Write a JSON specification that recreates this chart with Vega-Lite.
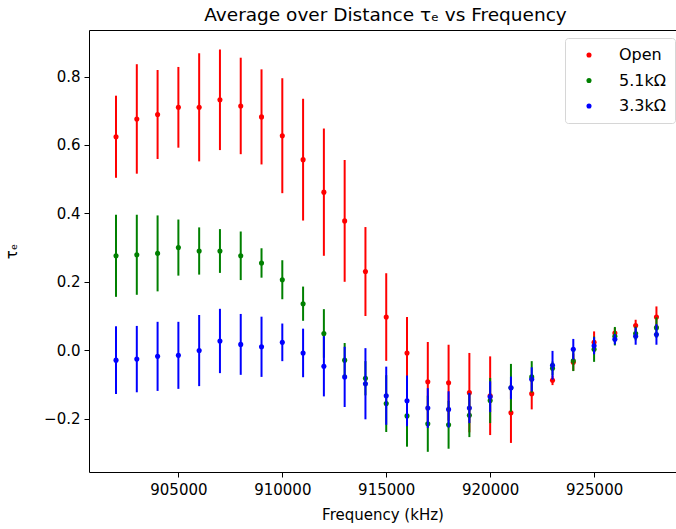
{
  "$schema": "https://vega.github.io/schema/vega-lite/v6.json",
  "width": 587,
  "height": 442,
  "autosize": {"type": "none"},
  "padding": {"left": 89, "top": 30, "right": 0, "bottom": 57},
  "title": {"text": "Average over Distance τₑ vs Frequency", "fontSize": 18.5, "fontWeight": "normal", "color": "#000000", "anchor": "middle", "dx": 3, "offset": 6},
  "config": {
    "font": "DejaVu Sans",
    "view": {"stroke": null},
    "axis": {"grid": false, "domainColor": "#000000", "domainWidth": 1, "tickColor": "#000000", "tickSize": 5, "tickWidth": 1, "labelColor": "#000000", "labelFontSize": 15, "titleColor": "#000000", "titleFontSize": 15, "titleFontWeight": "normal"}
  },
  "data": {"values": [
    {"f": 902000, "s": "Open", "t": 0.624, "e": 0.12},
    {"f": 903000, "s": "Open", "t": 0.676, "e": 0.16},
    {"f": 904000, "s": "Open", "t": 0.689, "e": 0.13},
    {"f": 905000, "s": "Open", "t": 0.710, "e": 0.118},
    {"f": 906000, "s": "Open", "t": 0.710, "e": 0.158},
    {"f": 907000, "s": "Open", "t": 0.732, "e": 0.147},
    {"f": 908000, "s": "Open", "t": 0.714, "e": 0.141},
    {"f": 909000, "s": "Open", "t": 0.682, "e": 0.139},
    {"f": 910000, "s": "Open", "t": 0.627, "e": 0.168},
    {"f": 911000, "s": "Open", "t": 0.557, "e": 0.178},
    {"f": 912000, "s": "Open", "t": 0.462, "e": 0.186},
    {"f": 913000, "s": "Open", "t": 0.378, "e": 0.178},
    {"f": 914000, "s": "Open", "t": 0.230, "e": 0.13},
    {"f": 915000, "s": "Open", "t": 0.097, "e": 0.128},
    {"f": 916000, "s": "Open", "t": -0.008, "e": 0.105},
    {"f": 917000, "s": "Open", "t": -0.092, "e": 0.116},
    {"f": 918000, "s": "Open", "t": -0.095, "e": 0.111},
    {"f": 919000, "s": "Open", "t": -0.124, "e": 0.116},
    {"f": 920000, "s": "Open", "t": -0.133, "e": 0.115},
    {"f": 921000, "s": "Open", "t": -0.183, "e": 0.088},
    {"f": 922000, "s": "Open", "t": -0.127, "e": 0.046},
    {"f": 923000, "s": "Open", "t": -0.088, "e": 0.014},
    {"f": 924000, "s": "Open", "t": -0.035, "e": 0.025},
    {"f": 925000, "s": "Open", "t": 0.023, "e": 0.032},
    {"f": 926000, "s": "Open", "t": 0.050, "e": 0.015},
    {"f": 927000, "s": "Open", "t": 0.072, "e": 0.017},
    {"f": 928000, "s": "Open", "t": 0.097, "e": 0.031},
    {"f": 902000, "s": "5.1kΩ", "t": 0.276, "e": 0.12},
    {"f": 903000, "s": "5.1kΩ", "t": 0.279, "e": 0.117},
    {"f": 904000, "s": "5.1kΩ", "t": 0.283, "e": 0.111},
    {"f": 905000, "s": "5.1kΩ", "t": 0.300, "e": 0.082},
    {"f": 906000, "s": "5.1kΩ", "t": 0.290, "e": 0.069},
    {"f": 907000, "s": "5.1kΩ", "t": 0.290, "e": 0.064},
    {"f": 908000, "s": "5.1kΩ", "t": 0.276, "e": 0.071},
    {"f": 909000, "s": "5.1kΩ", "t": 0.255, "e": 0.043},
    {"f": 910000, "s": "5.1kΩ", "t": 0.206, "e": 0.057},
    {"f": 911000, "s": "5.1kΩ", "t": 0.136, "e": 0.05},
    {"f": 912000, "s": "5.1kΩ", "t": 0.049, "e": 0.071},
    {"f": 913000, "s": "5.1kΩ", "t": -0.029, "e": 0.05},
    {"f": 914000, "s": "5.1kΩ", "t": -0.082, "e": 0.05},
    {"f": 915000, "s": "5.1kΩ", "t": -0.156, "e": 0.083},
    {"f": 916000, "s": "5.1kΩ", "t": -0.192, "e": 0.09},
    {"f": 917000, "s": "5.1kΩ", "t": -0.215, "e": 0.082},
    {"f": 918000, "s": "5.1kΩ", "t": -0.218, "e": 0.07},
    {"f": 919000, "s": "5.1kΩ", "t": -0.190, "e": 0.064},
    {"f": 920000, "s": "5.1kΩ", "t": -0.147, "e": 0.066},
    {"f": 921000, "s": "5.1kΩ", "t": -0.110, "e": 0.07},
    {"f": 922000, "s": "5.1kΩ", "t": -0.078, "e": 0.046},
    {"f": 923000, "s": "5.1kΩ", "t": -0.053, "e": 0.02},
    {"f": 924000, "s": "5.1kΩ", "t": -0.031, "e": 0.03},
    {"f": 925000, "s": "5.1kΩ", "t": 0.003, "e": 0.037},
    {"f": 926000, "s": "5.1kΩ", "t": 0.041, "e": 0.027},
    {"f": 927000, "s": "5.1kΩ", "t": 0.049, "e": 0.02},
    {"f": 928000, "s": "5.1kΩ", "t": 0.066, "e": 0.03},
    {"f": 902000, "s": "3.3kΩ", "t": -0.029, "e": 0.099},
    {"f": 903000, "s": "3.3kΩ", "t": -0.026, "e": 0.097},
    {"f": 904000, "s": "3.3kΩ", "t": -0.018, "e": 0.101},
    {"f": 905000, "s": "3.3kΩ", "t": -0.015, "e": 0.098},
    {"f": 906000, "s": "3.3kΩ", "t": -0.001, "e": 0.104},
    {"f": 907000, "s": "3.3kΩ", "t": 0.027, "e": 0.094},
    {"f": 908000, "s": "3.3kΩ", "t": 0.017, "e": 0.089},
    {"f": 909000, "s": "3.3kΩ", "t": 0.010, "e": 0.088},
    {"f": 910000, "s": "3.3kΩ", "t": 0.023, "e": 0.055},
    {"f": 911000, "s": "3.3kΩ", "t": -0.008, "e": 0.071},
    {"f": 912000, "s": "3.3kΩ", "t": -0.047, "e": 0.088},
    {"f": 913000, "s": "3.3kΩ", "t": -0.078, "e": 0.088},
    {"f": 914000, "s": "3.3kΩ", "t": -0.098, "e": 0.104},
    {"f": 915000, "s": "3.3kΩ", "t": -0.133, "e": 0.085},
    {"f": 916000, "s": "3.3kΩ", "t": -0.148, "e": 0.074},
    {"f": 917000, "s": "3.3kΩ", "t": -0.169, "e": 0.058},
    {"f": 918000, "s": "3.3kΩ", "t": -0.173, "e": 0.053},
    {"f": 919000, "s": "3.3kΩ", "t": -0.169, "e": 0.044},
    {"f": 920000, "s": "3.3kΩ", "t": -0.136, "e": 0.045},
    {"f": 921000, "s": "3.3kΩ", "t": -0.110, "e": 0.033},
    {"f": 922000, "s": "3.3kΩ", "t": -0.085, "e": 0.035},
    {"f": 923000, "s": "3.3kΩ", "t": -0.044, "e": 0.042},
    {"f": 924000, "s": "3.3kΩ", "t": 0.003, "e": 0.03},
    {"f": 925000, "s": "3.3kΩ", "t": 0.013, "e": 0.025},
    {"f": 926000, "s": "3.3kΩ", "t": 0.032, "e": 0.015},
    {"f": 927000, "s": "3.3kΩ", "t": 0.041, "e": 0.025},
    {"f": 928000, "s": "3.3kΩ", "t": 0.046, "e": 0.03}
  ]},
  "layer": [
    {
      "mark": {"type": "point", "filled": true, "shape": "circle", "size": 26, "opacity": 1},
      "encoding": {
        "x": {"field": "f", "type": "quantitative",
              "scale": {"domain": [900700, 928941], "nice": false, "zero": false},
              "axis": {"orient": "bottom", "values": [905000, 910000, 915000, 920000, 925000], "format": "d", "title": "Frequency (kHz)", "labelPadding": 5, "titlePadding": 10}},
        "y": {"field": "t", "type": "quantitative",
              "scale": {"domain": [-0.356, 0.936], "nice": false, "zero": false},
              "axis": {"values": [-0.2, 0, 0.2, 0.4, 0.6, 0.8], "format": ".1f", "title": "τₑ", "labelPadding": 4, "titlePadding": 24}},
        "color": {"field": "s", "type": "nominal",
                  "scale": {"domain": ["Open", "5.1kΩ", "3.3kΩ"], "range": ["#ff0000", "#008000", "#0000ff"]},
                  "legend": {"orient": "none", "legendX": 476, "legendY": 8, "title": null, "symbolType": "circle", "symbolSize": 26, "symbolStrokeWidth": 0, "labelFontSize": 16, "labelColor": "#000000", "strokeColor": "#d6d6d6", "fillColor": "#ffffff", "cornerRadius": 3, "padding": 9, "rowPadding": 9.5, "labelOffset": 22, "symbolOffset": 7}}
      }
    },
    {
      "mark": {"type": "errorbar", "thickness": 2, "ticks": false},
      "encoding": {
        "x": {"field": "f", "type": "quantitative", "axis": null},
        "y": {"field": "t", "type": "quantitative", "axis": {"values": [-0.2, 0, 0.2, 0.4, 0.6, 0.8], "format": ".1f", "title": "τₑ", "labelPadding": 4, "titlePadding": 24}},
        "yError": {"field": "e"},
        "color": {"field": "s", "type": "nominal", "legend": null}
      }
    },
    {
      "mark": {"type": "point", "opacity": 0},
      "encoding": {
        "x": {"field": "f", "type": "quantitative", "axis": {"orient": "top", "labels": false, "ticks": false, "title": null, "domain": true}},
        "y": {"field": "t", "type": "quantitative", "axis": {"values": [-0.2, 0, 0.2, 0.4, 0.6, 0.8], "format": ".1f", "title": "τₑ", "labelPadding": 4, "titlePadding": 24}}
      }
    }
  ],
  "resolve": {"axis": {"x": "independent"}}
}
